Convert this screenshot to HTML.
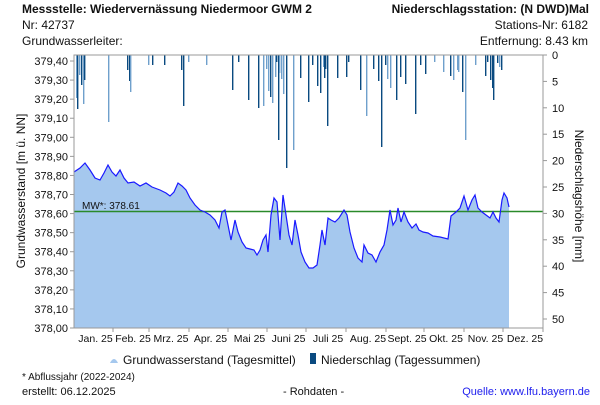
<!DOCTYPE html>
<html><head><meta charset="utf-8"><style>
body{margin:0;background:#fff;}
svg{font-family:"Liberation Sans",sans-serif;}
</style></head><body>
<svg id="s" width="600" height="400" xmlns="http://www.w3.org/2000/svg">
<rect width="600" height="400" fill="#fff"/>
<text x="22" y="13" font-size="12" font-weight="bold" fill="#111">Messstelle: Wiedervernässung Niedermoor GWM 2</text>
<text x="22" y="29" font-size="12" fill="#111">Nr: 42737</text>
<text x="22" y="45" font-size="12" fill="#111">Grundwasserleiter:</text>
<text x="589" y="13" font-size="12" font-weight="bold" fill="#111" text-anchor="end">Niederschlagsstation: (N DWD)Mal</text>
<text x="588" y="29" font-size="12" fill="#111" text-anchor="end">Stations-Nr: 6182</text>
<text x="588" y="45" font-size="12" fill="#111" text-anchor="end">Entfernung: 8.43 km</text>
<polygon id="area" fill="#a5c8ee"/>
<g id="bars"></g>
<line x1="74" y1="211.5" x2="543" y2="211.5" stroke="#2a8a2a" stroke-width="1.5"/>
<polyline id="line" fill="none" stroke="#1a1aff" stroke-width="1.2"/>
<text x="82" y="209" font-size="10" fill="#111">MW*: 378.61</text>
<rect x="74" y="55" width="469" height="273" fill="none" stroke="#999"/>
<g id="ax" font-size="11" fill="#111"></g>
<text transform="translate(25,191) rotate(-90)" font-size="12" text-anchor="middle" fill="#111">Grundwasserstand [m ü. NN]</text>
<text transform="translate(575,196) rotate(90)" font-size="12" text-anchor="middle" fill="#111">Niederschlagshöhe [mm]</text>
<path d="M110,363 q4,-8 8,0 z" fill="#a5c8ee"/>
<text x="123" y="364" font-size="12" fill="#111">Grundwasserstand (Tagesmittel)</text>
<rect x="310" y="353" width="6" height="11" fill="#0a4a80"/>
<text x="321" y="364" font-size="12" fill="#111">Niederschlag (Tagessummen)</text>
<text x="22" y="380" font-size="10" fill="#111">* Abflussjahr (2022-2024)</text>
<text x="22" y="395" font-size="11" fill="#111">erstellt:  06.12.2025</text>
<text x="283" y="395" font-size="11" fill="#111">- Rohdaten -</text>
<text x="590" y="395" font-size="11" fill="#2020ee" text-anchor="end">Quelle: www.lfu.bayern.de</text>
</svg>
<script>
var pts=[[74,172],[80,168],[85,163],[90,170],[95,178],[100,180],[104,173],[108,165],[112,172],[116,176],[120,170],[124,178],[128,183],[134,182],[140,186],[146,183],[152,187],[160,190],[166,193],[170,196],[174,192],[178,183],[182,186],[186,190],[190,198],[195,205],[200,210],[205,212],[210,215],[215,220],[219,228],[222,212],[225,210],[228,225],[231,240],[235,220],[238,232],[242,242],[246,248],[250,249],[254,250],[257,255],[260,250],[263,240],[266,235],[268,252],[271,215],[274,198],[277,202],[280,240],[283,195],[286,215],[289,235],[292,245],[295,220],[298,235],[301,252],[305,262],[309,268],[313,268],[317,265],[320,245],[322,230],[325,245],[328,218],[331,220],[335,222],[339,218],[344,210],[347,215],[350,232],[354,248],[358,258],[362,262],[364,245],[368,253],[372,255],[376,262],[380,252],[384,245],[387,230],[390,210],[393,225],[396,220],[398,208],[401,222],[404,212],[408,222],[412,228],[416,224],[419,230],[423,232],[428,233],[433,236],[440,237],[448,239],[451,216],[456,212],[460,208],[464,196],[468,210],[472,200],[475,195],[478,208],[482,212],[486,215],[490,218],[493,212],[496,218],[499,222],[502,200],[504,193],[507,198],[509,207]];
document.getElementById('line').setAttribute('points',pts.map(p=>p.join(',')).join(' '));
document.getElementById('area').setAttribute('points','74,328 '+pts.map(p=>p.join(',')).join(' ')+' 509,328');
var big={76:[98,1],77:[109,0],79:[75,1],81:[85,0],83:[104,1],84:[80,0],108:[122,1],127:[70,0],129:[81,0],130:[92,1],148:[65,1],152:[65,0],164:[65,0],181:[70,0],183:[106,0],188:[62,1],206:[65,1],232:[90,0],238:[62,0],248:[100,0],258:[108,0],263:[106,1],266:[69,1],268:[91,1],270:[97,0],272:[103,1],275:[77,1],276:[62,0],278:[140,0],279:[73,1],281:[79,1],283:[94,1],286:[168,0],293:[150,1],300:[78,0],308:[102,0],312:[65,0],317:[86,0],320:[93,0],323:[67,1],324:[78,0],325:[69,0],327:[126,0],337:[78,0],346:[77,0],348:[62,0],360:[90,0],366:[116,1],373:[69,0],378:[81,0],381:[147,0],385:[65,0],387:[79,1],390:[88,1],396:[100,0],400:[77,0],405:[84,0],415:[114,0],420:[65,0],425:[74,0],434:[62,1],443:[72,1],450:[76,0],453:[80,1],457:[70,1],458:[72,1],462:[92,0],465:[140,1],475:[65,1],485:[76,0],487:[62,0],490:[80,0],492:[88,0],493:[100,0],497:[63,0],499:[67,1],501:[70,0]};
var g='';for(var k in big){var b=big[k];g+='<rect x="'+k+'" y="55" width="1.4" height="'+(b[0]-55)+'" fill="'+(b[1]?'#6fa0cc':'#0a4a80')+'"/>';}
document.getElementById('bars').innerHTML=g;
var a='';
for(var i=0;i<=14;i++){var v=378+i*0.1,y=328-i*19.07;a+='<text x="68" y="'+(y+4)+'" text-anchor="end">'+v.toFixed(2).replace('.',',')+'</text><line x1="70" x2="74" y1="'+y+'" y2="'+y+'" stroke="#999"/>';}
for(var j=0;j<=50;j+=5){var y=55+j*5.28;a+='<text x="552" y="'+(y+4)+'">'+j+'</text><line x1="543" x2="547" y1="'+y+'" y2="'+y+'" stroke="#999"/>';}
var ms=[['Jan. 25',74,113],['Feb. 25',113,149],['Mrz. 25',149,189],['Apr. 25',189,228],['Mai 25',228,267],['Juni 25',267,306],['Juli 25',306,346],['Aug. 25',346,386],['Sept. 25',386,424],['Okt. 25',424,464],['Nov. 25',464,503],['Dez. 25',503,543]];
ms.forEach(function(m){a+='<line x1="'+m[2]+'" x2="'+m[2]+'" y1="328" y2="332" stroke="#999"/><text x="'+((m[1]+m[2])/2+2)+'" y="342" text-anchor="middle" font-size="10.5">'+m[0]+'</text>';});
document.getElementById('ax').innerHTML=a;
</script>
</body></html>
